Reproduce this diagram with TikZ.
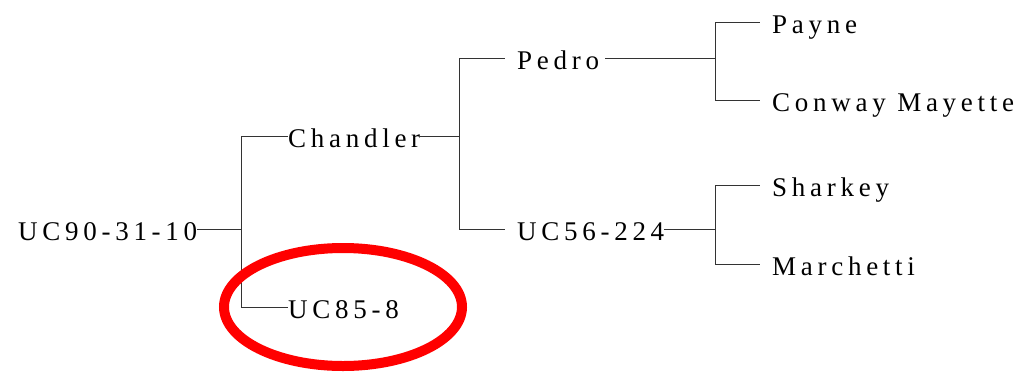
\documentclass[tikz,border=0pt]{standalone}
\usepackage{fontspec}
\setmainfont[LetterSpace=17.5]{Liberation Serif}
\tikzset{
    name-label/.style = {anchor=west, inner sep=0pt, text height=22pt, text depth=0pt, font=\fontsize{27}{30}\selectfont},
    tree-line/.style = {draw=black!80, line width=1pt},
    far-line/.style = {tree-line, shorten >=12pt},
    pick-ring/.style = {draw=red, line width=10pt},
}
\begin{document}
\begin{tikzpicture}[x=1pt, y=-1pt]
\useasboundingbox (0,0) rectangle (1025,372);
% the names
\node[name-label] (root) at (18,229) {UC90-31-10};
\node[name-label] (chandler) at (288,136) {Chandler};
\node[name-label] (uc85) at (288,307) {UC85-8};
\node[name-label] (pedro) at (517,58) {Pedro};
\node[name-label] (uc56) at (517,229) {UC56-224};
\node[name-label] (payne) at (772,22) {Payne};
\node[name-label] (conway) at (772,100) {Conway Mayette};
\node[name-label] (sharkey) at (772,185) {Sharkey};
\node[name-label] (marchetti) at (772,264) {Marchetti};
% where the branches split
\coordinate (fork-a) at (241,229);
\coordinate (fork-b) at (459,136);
\coordinate (fork-c) at (715,58);
\coordinate (fork-d) at (715,229);
% the branches
\draw[tree-line] (root.east) -- (fork-a) |- (chandler.west);
\draw[tree-line] (fork-a) |- (uc85.west);
\draw[tree-line] (chandler.east) -- (fork-b);
\draw[far-line] (fork-b) |- (pedro.west);
\draw[far-line] (fork-b) |- (uc56.west);
\draw[tree-line] ([xshift=6pt]pedro.east) -- (fork-c);
\draw[far-line] (fork-c) |- (payne.west);
\draw[far-line] (fork-c) |- (conway.west);
\draw[tree-line] (uc56.east) -- (fork-d);
\draw[far-line] (fork-d) |- (sharkey.west);
\draw[far-line] (fork-d) |- (marchetti.west);
% the red ring
\draw[pick-ring] (343,307) ellipse [x radius=119pt, y radius=59pt];
\end{tikzpicture}
\end{document}
